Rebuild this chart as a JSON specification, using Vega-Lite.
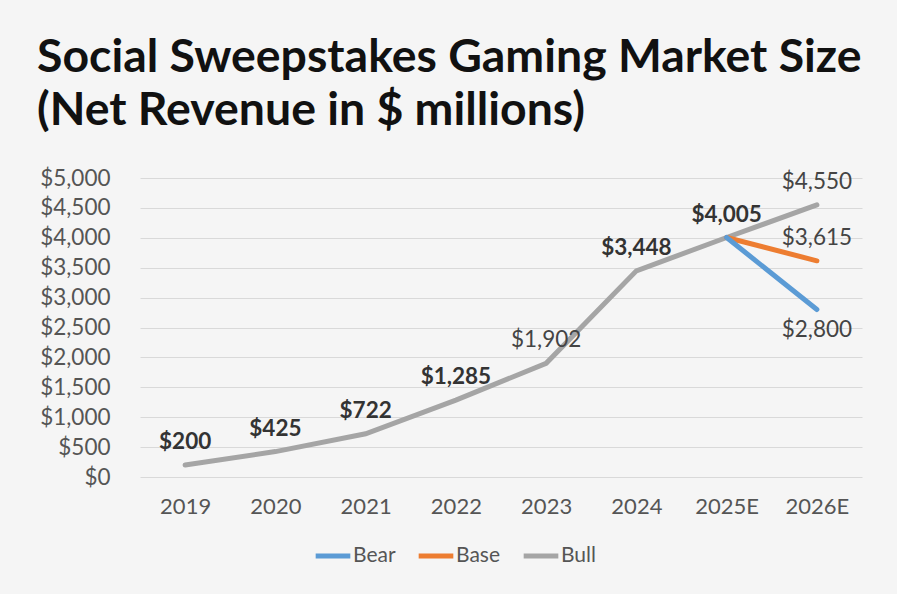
{
  "$schema": "https://vega.github.io/schema/vega-lite/v6.json",
  "width": 722,
  "height": 299,
  "autosize": {"type": "none"},
  "padding": {"left": 140, "top": 178, "right": 35, "bottom": 117},
  "background": "#f5f5f5",
  "title": {
    "text": ["Social Sweepstakes Gaming Market Size", "(Net Revenue in $ millions)"],
    "anchor": "start",
    "frame": "group",
    "dx": -103,
    "offset": 33,
    "font": "Lato",
    "fontSize": 46.4,
    "fontWeight": "bold",
    "color": "#111111",
    "lineHeight": 53
  },
  "config": {
    "view": {"stroke": null},
    "font": "Lato"
  },
  "data": {
    "values": [
      {"year": "2019", "series": "Bull", "value": 200},
      {"year": "2020", "series": "Bull", "value": 425},
      {"year": "2021", "series": "Bull", "value": 722},
      {"year": "2022", "series": "Bull", "value": 1285},
      {"year": "2023", "series": "Bull", "value": 1902},
      {"year": "2024", "series": "Bull", "value": 3448},
      {"year": "2025E", "series": "Bull", "value": 4005},
      {"year": "2026E", "series": "Bull", "value": 4550},
      {"year": "2025E", "series": "Base", "value": 4005},
      {"year": "2026E", "series": "Base", "value": 3615},
      {"year": "2025E", "series": "Bear", "value": 4005},
      {"year": "2026E", "series": "Bear", "value": 2800}
    ]
  },
  "encoding": {
    "x": {
      "field": "year",
      "type": "ordinal",
      "scale": {"type": "point", "padding": 0.5},
      "sort": ["2019", "2020", "2021", "2022", "2023", "2024", "2025E", "2026E"],
      "axis": {
        "title": null,
        "labelAngle": 0,
        "labelFont": "Lato",
        "labelFontSize": 22,
        "labelColor": "#555555",
        "labelPadding": 19,
        "ticks": false,
        "domain": false,
        "grid": false
      }
    },
    "y": {
      "field": "value",
      "type": "quantitative",
      "scale": {"domain": [0, 5000]},
      "axis": {
        "title": null,
        "values": [0, 500, 1000, 1500, 2000, 2500, 3000, 3500, 4000, 4500, 5000],
        "format": "$,.0f",
        "labelFont": "Lato",
        "labelFontSize": 22.5,
        "labelColor": "#555555",
        "labelPadding": 30,
        "ticks": false,
        "domain": false,
        "grid": true,
        "gridColor": "#d9d9d9",
        "gridWidth": 1
      }
    }
  },
  "layer": [
    {
      "mark": {"type": "line", "strokeWidth": 5, "strokeCap": "round"},
      "encoding": {
        "color": {
          "field": "series",
          "type": "nominal",
          "scale": {"domain": ["Bear", "Base", "Bull"], "range": ["#5b9bd5", "#ed7d31", "#a5a5a5"]},
          "legend": {
            "title": null,
            "orient": "none",
            "direction": "horizontal",
            "legendX": 173,
            "legendY": 358,
            "symbolType": "stroke",
            "symbolStrokeWidth": 5,
            "symbolSize": 1200,
            "labelFont": "Lato",
            "labelFontSize": 21,
            "labelColor": "#555555",
            "labelOffset": 0,
            "columnPadding": 12
          }
        },
        "order": {"field": "series", "sort": "descending"}
      }
    },
    {
      "transform": [{"filter": "datum.series == 'Bull' && datum.year != '2023' && datum.year != '2026E'"}],
      "mark": {"type": "text", "dy": -23, "font": "Lato", "fontSize": 22.5, "fontWeight": "bold", "color": "#333333"},
      "encoding": {"text": {"field": "value", "type": "quantitative", "format": "$,.0f"}}
    },
    {
      "transform": [{"filter": "(datum.series == 'Bull' && (datum.year == '2023' || datum.year == '2026E')) || (datum.series == 'Base' && datum.year == '2026E')"}],
      "mark": {"type": "text", "dy": -23, "font": "Lato", "fontSize": 22.5, "color": "#444444"},
      "encoding": {"text": {"field": "value", "type": "quantitative", "format": "$,.0f"}}
    },
    {
      "transform": [{"filter": "datum.series == 'Bear' && datum.year == '2026E'"}],
      "mark": {"type": "text", "dy": 20, "font": "Lato", "fontSize": 22.5, "color": "#444444"},
      "encoding": {"text": {"field": "value", "type": "quantitative", "format": "$,.0f"}}
    }
  ]
}
